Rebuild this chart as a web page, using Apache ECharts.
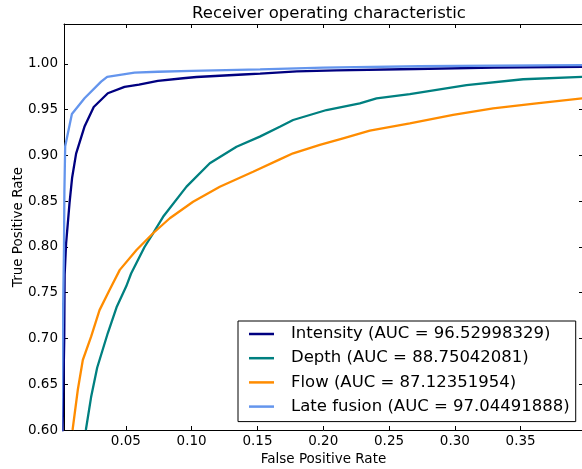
<!DOCTYPE html>
<html>
<head>
<meta charset="utf-8">
<script src="https://cdn.jsdelivr.net/npm/echarts@6/dist/echarts.min.js"></script>
<style>
  html, body { margin: 0; padding: 0; background: #fff; }
  #chart { width: 582px; height: 469px; }
</style>
</head>
<body>
<div id="chart"></div>
<script>
// [false positive rate, true positive rate]
const intensity = [
  [0.0, 0.45], [0.0032, 0.70], [0.0035, 0.77], [0.0046, 0.804], [0.0072, 0.848],
  [0.0092, 0.876], [0.0122, 0.902], [0.0187, 0.932], [0.0256, 0.953], [0.0363, 0.968],
  [0.049, 0.975], [0.06, 0.9775], [0.0743, 0.9815], [0.0935, 0.9844], [0.1037, 0.9858],
  [0.139, 0.9885], [0.152, 0.9895], [0.18, 0.992], [0.21, 0.993], [0.27, 0.9945],
  [0.33, 0.996], [0.4, 0.997]
]
const depth = [
  [0.0196, 0.60], [0.0236, 0.636], [0.0282, 0.668], [0.0363, 0.706], [0.0432, 0.735],
  [0.0503, 0.757], [0.054, 0.771], [0.0642, 0.80], [0.0707, 0.815], [0.0783, 0.833],
  [0.0961, 0.866], [0.1138, 0.8915], [0.1341, 0.9096], [0.1518, 0.9206], [0.167, 0.9315],
  [0.1771, 0.9388], [0.2025, 0.9497], [0.2278, 0.957], [0.2405, 0.9625], [0.2658, 0.967],
  [0.3089, 0.977], [0.3519, 0.9833], [0.4, 0.986]
]
const flow = [
  [0.0095, 0.60], [0.0135, 0.644], [0.0173, 0.6765], [0.0236, 0.702], [0.03, 0.731],
  [0.0376, 0.753], [0.0454, 0.775], [0.0581, 0.7967], [0.0707, 0.815], [0.0834, 0.8314],
  [0.1011, 0.8495], [0.1214, 0.8659], [0.1467, 0.8823], [0.167, 0.8958], [0.1771, 0.9024],
  [0.1974, 0.9115], [0.2151, 0.9188], [0.2354, 0.9271], [0.2658, 0.9352], [0.2987, 0.9443],
  [0.3291, 0.9516], [0.3621, 0.957], [0.4, 0.963]
]
const lateFusion = [
  [0.0, 0.5], [0.003, 0.80], [0.0033, 0.86], [0.0039, 0.91], [0.009, 0.9454],
  [0.0186, 0.9625], [0.0312, 0.9807], [0.0358, 0.986], [0.0566, 0.9905], [0.0743, 0.9915],
  [0.1, 0.9925], [0.152, 0.9942], [0.2, 0.996], [0.273, 0.9975], [0.33, 0.9982],
  [0.4, 0.9988]
]

const seriesNames = [
  'Intensity (AUC = 96.52998329)',
  'Depth (AUC = 88.75042081)',
  'Flow (AUC = 87.12351954)',
  'Late fusion (AUC = 97.04491888)'
]
const seriesColors = ['#000080', '#008080', '#ff8c00', '#6495ed']
const xTicks = [0.05, 0.10, 0.15, 0.20, 0.25, 0.30, 0.35]
const yTicks = [0.60, 0.65, 0.70, 0.75, 0.80, 0.85, 0.90, 0.95, 1.00]

const FONT = 'DejaVu Sans'
const xMin = 0.003, xMax = 0.3974
const yMin = 0.6, yMax = 1.0437

const chart = echarts.init(document.getElementById('chart'), null, { renderer: 'canvas' })

function makeX(position, showLabel) {
  return {
    type: 'value', position, min: xMin, max: xMax,
    name: showLabel ? 'False Positive Rate' : '',
    nameLocation: 'middle', nameGap: 22, nameMoveOverlap: false,
    nameTextStyle: { fontFamily: FONT, fontSize: 13.5, color: '#000' },
    axisLine: { show: true, onZero: false, lineStyle: { color: '#000', width: 1 } },
    axisTick: { show: true, inside: true, length: 4, customValues: xTicks, lineStyle: { color: '#000' } },
    axisLabel: {
      show: showLabel, customValues: xTicks, margin: 4,
      fontFamily: FONT, fontSize: 13.5, color: '#000',
      formatter: (v) => v.toFixed(2)
    },
    splitLine: { show: false }
  }
}

function makeY(position, showLabel) {
  return {
    type: 'value', position, min: yMin, max: yMax,
    name: showLabel ? 'True Positive Rate' : '',
    nameLocation: 'middle', nameGap: 39, nameRotate: 90, nameMoveOverlap: false,
    nameTextStyle: { fontFamily: FONT, fontSize: 13.5, color: '#000' },
    axisLine: { show: true, onZero: false, lineStyle: { color: '#000', width: 1 } },
    axisTick: { show: true, inside: true, length: 4, customValues: yTicks, lineStyle: { color: '#000' } },
    axisLabel: {
      show: showLabel, customValues: yTicks, margin: 6,
      fontFamily: FONT, fontSize: 13.5, color: '#000',
      formatter: (v) => v.toFixed(2)
    },
    splitLine: { show: false }
  }
}

const dataSets = [intensity, depth, flow, lateFusion]

chart.setOption({
  animation: false,
  backgroundColor: '#fff',
  title: {
    text: 'Receiver operating characteristic',
    left: 324, top: 0, textAlign: 'center',
    textStyle: { fontFamily: FONT, fontSize: 16.5, fontWeight: 'normal', color: '#000' }
  },
  grid: { left: 64, top: 24, width: 519, height: 406, containLabel: false, outerBoundsMode: 'none' },
  legend: {
    orient: 'vertical', left: 238, top: 321,
    backgroundColor: '#fff', borderColor: '#000', borderWidth: 1, borderRadius: 0,
    padding: [3, 6, 5, 11],
    itemWidth: 25, itemHeight: 2.5, itemGap: 4.2,
    icon: 'rect',
    textStyle: { fontFamily: FONT, fontSize: 16.5, color: '#000', lineHeight: 20, padding: [0, 0, 0, 12] },
    data: seriesNames
  },
  xAxis: [makeX('bottom', true), makeX('top', false)],
  yAxis: [makeY('left', true), makeY('right', false)],
  series: dataSets.map((d, i) => ({
    name: seriesNames[i],
    type: 'line',
    data: d,
    showSymbol: false,
    symbol: 'none',
    clip: true,
    lineStyle: { color: seriesColors[i], width: 2.3 },
    itemStyle: { color: seriesColors[i] }
  }))
})
</script>
</body>
</html>
